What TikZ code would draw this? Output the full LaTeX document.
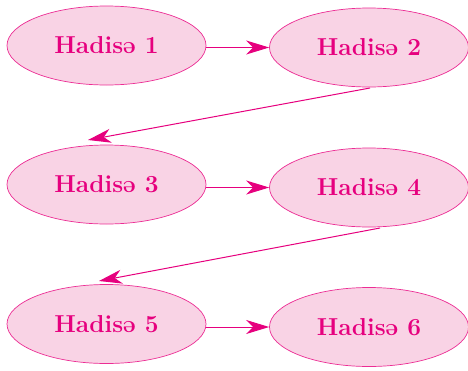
\documentclass[tikz,border=0pt]{standalone}
\usepackage{fontspec}
\usetikzlibrary{shapes.geometric,arrows.meta}
\definecolor{evborder}{HTML}{EC2D94}
\definecolor{evfill}{HTML}{F9D3E5}
\definecolor{evtext}{HTML}{E6007E}
\tikzset{
  event/.style={ellipse, draw=evborder, fill=evfill, line width=0.7pt,
    minimum width=199pt, minimum height=79pt, inner sep=0pt,
    text=evtext, font=\fontsize{24.5}{28}\selectfont\bfseries},
  flow/.style={draw=evtext, line width=1pt,
    -{Stealth[length=23pt,width=14pt,inset=7pt]}}
}
\begin{document}
\begin{tikzpicture}[x=1pt,y=-1pt]
\useasboundingbox (0,0) rectangle (468,370);
\node[event] (e1) at (106.5,45.5) {Hadisə 1};
\node[event] (e2) at (369,47.5) {Hadisə 2};
\node[event] (e3) at (106.5,184.5) {Hadisə 3};
\node[event] (e4) at (369,187.5) {Hadisə 4};
\node[event] (e5) at (106.5,324) {Hadisə 5};
\node[event] (e6) at (369,327) {Hadisə 6};
\coordinate (t3) at (88,140);
\coordinate (t5) at (99,281);
\coordinate (s2) at (370,88);
\coordinate (s4) at (380,228);
\draw[flow] (e1.east |- e2.west) -- (e2.west);
\draw[flow] (e3.east |- e4.west) -- (e4.west);
\draw[flow] (e5.east |- e6.west) -- (e6.west);
\draw[flow] (s2) -- (t3);
\draw[flow] (s4) -- (t5);
\end{tikzpicture}
\end{document}
